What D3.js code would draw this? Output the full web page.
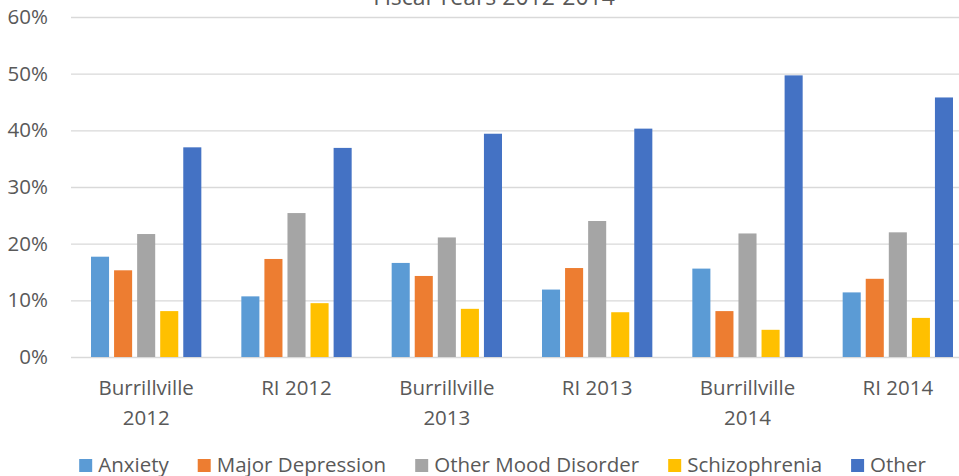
<!DOCTYPE html>
<html>
<head>
<meta charset="utf-8">
<script src="https://cdn.jsdelivr.net/npm/d3@7"></script>
<style>
  body { margin: 0; background: #fff; }
  svg { display: block; font-family: "Open Sans", sans-serif; }
</style>
</head>
<body>
<svg id="chart" width="959" height="476"></svg>
<script>
// categories (x axis) and series
var categories = ["Burrillville 2012", "RI 2012", "Burrillville 2013", "RI 2013", "Burrillville 2014", "RI 2014"];
var seriesNames = ["Anxiety", "Major Depression", "Other Mood Disorder", "Schizophrenia", "Other"];
var seriesColors = ["#5B9BD5", "#ED7D31", "#A5A5A5", "#FFC000", "#4472C4"];

// values, one array per series (fractions)
var anxiety = [0.177, 0.107, 0.166, 0.119, 0.156, 0.114];
var majorDepression = [0.153, 0.173, 0.143, 0.157, 0.081, 0.138];
var otherMood = [0.217, 0.254, 0.211, 0.240, 0.218, 0.220];
var schizophrenia = [0.081, 0.095, 0.085, 0.079, 0.048, 0.069];
var other = [0.370, 0.369, 0.394, 0.403, 0.497, 0.458];

var yTicks = [0, 0.1, 0.2, 0.3, 0.4, 0.5, 0.6];
var title = "Fiscal Years 2012-2014";

var allSeries = [anxiety, majorDepression, otherMood, schizophrenia, other];

var svg = d3.select("#chart");
var textColor = "#595959";

var margin = {left: 71, right: 973, top: 17, bottom: 357};

var x = d3.scaleBand().domain(categories).range([margin.left, margin.right]);
var xs = d3.scaleBand().domain(seriesNames).range([20, x.bandwidth() - 20]).paddingInner(0.217);
var y = d3.scaleLinear().domain([0, 0.6]).range([margin.bottom, margin.top]);

// gridlines
var yAxis = d3.axisLeft(y).tickValues(yTicks).tickFormat(d3.format(".0%"))
  .tickSize(-(margin.right - margin.left)).tickPadding(23);
var gy = svg.append("g").attr("transform", "translate(" + margin.left + ",0)").call(yAxis);
gy.select(".domain").remove();
gy.selectAll(".tick line").attr("stroke", "#D9D9D9").attr("stroke-width", 1.4);
gy.selectAll(".tick text").attr("fill", textColor).attr("font-size", "20.5px")
  .attr("font-family", "Open Sans").attr("x", -23);

// bars
var groups = svg.append("g").selectAll("g")
  .data(categories)
  .enter().append("g")
  .attr("transform", function(d) { return "translate(" + x(d) + ",0)"; });

groups.selectAll("rect")
  .data(function(d, i) {
    return seriesNames.map(function(s, j) { return {series: s, idx: j, value: allSeries[j][i]}; });
  })
  .enter().append("rect")
  .attr("x", function(d) { return xs(d.series); })
  .attr("width", xs.bandwidth())
  .attr("y", function(d) { return y(d.value); })
  .attr("height", function(d) { return y(0) - y(d.value); })
  .attr("fill", function(d) { return seriesColors[d.idx]; });

// category labels (wrapped like the original)
var xl = svg.append("g");
categories.forEach(function(c) {
  var lines = c.indexOf("Burrillville") === 0 ? c.split(" ") : [c];
  var t = xl.append("text")
    .attr("text-anchor", "middle")
    .attr("fill", textColor)
    .attr("font-size", "20.5px");
  lines.forEach(function(l, k) {
    t.append("tspan")
      .attr("x", x(c) + x.bandwidth() / 2)
      .attr("y", 395 + k * 30)
      .text(l);
  });
});

// title (cut off at the top in the reference)
svg.append("text")
  .attr("x", 494)
  .attr("y", 5)
  .attr("text-anchor", "middle")
  .attr("fill", textColor)
  .attr("font-size", "23px")
  .text(title);

// legend
var legend = svg.append("g");
var items = legend.selectAll("g")
  .data(seriesNames)
  .enter().append("g");
items.append("rect")
  .attr("width", 13).attr("height", 13)
  .attr("y", 459)
  .attr("fill", function(d, i) { return seriesColors[i]; });
items.append("text")
  .attr("x", 19)
  .attr("y", 472)
  .attr("fill", textColor)
  .attr("font-size", "20.5px")
  .text(function(d) { return d; });

var widths = [];
items.each(function() { widths.push(this.querySelector("text").getComputedTextLength() + 19); });
var gap = 29;
var total = d3.sum(widths) + gap * (widths.length - 1);
var pos = 502.5 - total / 2;
items.attr("transform", function(d, i) {
  var p = pos;
  pos += widths[i] + gap;
  return "translate(" + p + ",0)";
});
</script>
</body>
</html>
